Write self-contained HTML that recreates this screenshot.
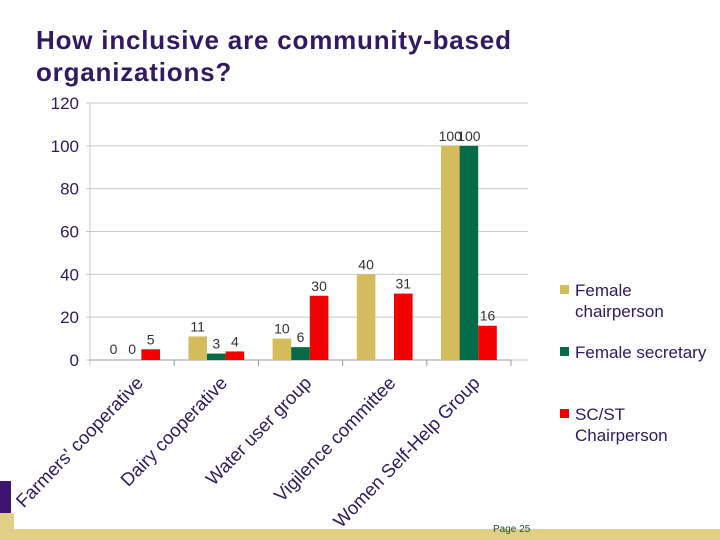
<!DOCTYPE html>
<html><head><meta charset="utf-8"><style>
body{margin:0;background:#fff;}
#wrap{position:relative;width:720px;height:540px;overflow:hidden;font-family:"Liberation Sans",sans-serif;}
#title{position:absolute;left:36px;top:24px;font-size:26px;letter-spacing:0.8px;font-weight:bold;color:#33195f;line-height:32px;}
</style></head><body>
<div id="wrap">
<div id="title">How inclusive are community-based<br>organizations?</div>
<svg id="chart" width="720" height="540" style="position:absolute;left:0;top:0"></svg>
</div>
<script>
const categories=["Farmers' cooperative","Dairy cooperative","Water user group","Vigilence committee","Women Self-Help Group"];
const femaleChair=[0,11,10,40,100];
const femaleSec=[0,3,6,null,100];
const scstChair=[5,4,30,31,16];
const yTicks=[0,20,40,60,80,100,120];
const seriesNames=["Female chairperson","Female secretary","SC/ST Chairperson"];
const colors=["#d4bc5c","#046b46","#f20000"];
const NS="http://www.w3.org/2000/svg";
const svg=document.getElementById('chart');
const x0=90,x1=511,y0=360,y1=103;
const yS=v=>y0-(v/120)*(y0-y1);
const cw=(x1-x0)/categories.length, bw=18.6;
function mk(t,a,p){const e=document.createElementNS(NS,t);for(const k in a)e.setAttribute(k,a[k]);(p||svg).appendChild(e);return e;}
let d=mk('rect',{x:0,y:529,width:720,height:11,fill:'#e2cf86'});

d=mk('rect',{x:0,y:513,width:14,height:27,fill:'#e2cf86'});

d=mk('rect',{x:0,y:481,width:11,height:32,fill:'#3d1570'});

let pg=mk('text',{x:493,y:532,'font-size':10,fill:'#1d4f2e'});pg.textContent='Page 25';

yTicks.forEach(v=>{
 const g=mk('line',{x1:x0-4,x2:x1+17,y1:yS(v),y2:yS(v),stroke:'#c8c8c8','stroke-width':1});
 
 const t=mk('text',{x:79,y:yS(v)+6,'text-anchor':'end','font-size':17,fill:'#2e1a5c'});t.textContent=v;
 
});
let ax=mk('line',{x1:x0,x2:x0,y1:y1,y2:y0+5,stroke:'#c8c8c8'});

ax=mk('line',{x1:x0,x2:x1,y1:y0,y2:y0,stroke:'#999'});

const series=[femaleChair,femaleSec,scstChair];
categories.forEach((c,i)=>{
 const cx=x0+i*cw;
 const tk=mk('line',{x1:cx+cw,x2:cx+cw,y1:y0,y2:y0+6,stroke:'#999'});
 
 const gs=cx+(cw-3*bw)/2;
 series.forEach((s,j)=>{
  const v=s[i];if(v===null)return;
  const bx=gs+j*bw;
  if(v>0){const r=mk('rect',{x:bx,y:yS(v),width:bw,height:y0-yS(v),fill:colors[j]});
   }
  const l=mk('text',{x:bx+bw/2,y:yS(v)-(v>0?5:6),'text-anchor':'middle','font-size':14,fill:'#333'});l.textContent=v;
  
 });
 const lx=cx+cw/2+12, ly=y0+24;
 const t=mk('text',{x:lx,y:ly,'text-anchor':'end','font-size':18.5,fill:'#2e1a5c',transform:`rotate(-46 ${lx} ${ly})`});t.textContent=c;
 
});
const ly=[290,352,414];
seriesNames.forEach((n,j)=>{
 const r=mk('rect',{x:560,y:ly[j]-5,width:9,height:9,fill:colors[j]});
 
 const t=mk('text',{x:575,y:ly[j]+6,'font-size':17,fill:'#2e1a5c'});
 
 const parts=n==="Female secretary"?[n]:(j===0?["Female","chairperson"]:["SC/ST","Chairperson"]);
 parts.forEach((p,k)=>{const ts=mk('tspan',{x:575,dy:k?21:0},t);ts.textContent=p;});
});
</script>
</body></html>
